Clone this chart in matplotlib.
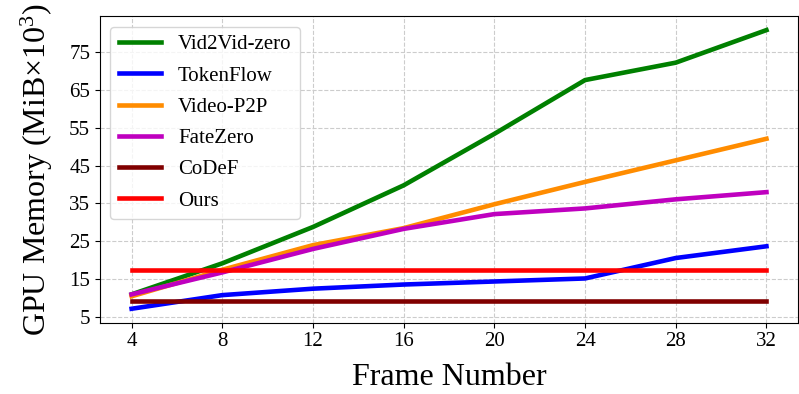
import numpy as np
import matplotlib
matplotlib.use('Agg')
import matplotlib.pyplot as plt

plt.rcParams['font.family'] = ['Liberation Serif', 'DejaVu Serif']
plt.rcParams['mathtext.fontset'] = 'custom'
plt.rcParams['mathtext.rm'] = 'Liberation Serif'
plt.rcParams['mathtext.it'] = 'Liberation Serif:italic'

frames = [4, 8, 12, 16, 20, 24, 28, 32]
vid2vid = [11.0, 19.2, 28.8, 39.8, 53.4, 67.6, 72.2, 80.8]
tokenflow = [7.2, 10.8, 12.5, 13.6, 14.4, 15.2, 20.6, 23.7]
videop2p = [10.5, 17.5, 24.0, 28.5, 34.8, 40.7, 46.4, 52.1]
fatezero = [11.0, 16.8, 23.0, 28.3, 32.2, 33.7, 36.1, 38.0]
codef = [9.3] * 8
ours = [17.5] * 8

series = [
    ('Vid2Vid-zero', vid2vid, 'green'),
    ('TokenFlow', tokenflow, 'blue'),
    ('Video-P2P', videop2p, 'darkorange'),
    ('FateZero', fatezero, 'm'),
    ('CoDeF', codef, 'maroon'),
    ('Ours', ours, 'red'),
]

fig = plt.figure(figsize=(7.99, 3.94), dpi=100)
ax = fig.add_axes([0.125, 0.181, 0.874, 0.778])

for name, vals, color in series:
    ax.plot(frames, vals, color=color, linewidth=3.3, label=name)

ax.set_xticks(frames)
ax.set_yticks(np.arange(5, 80, 10))
ax.tick_params(labelsize=15)
ax.set_xlabel('Frame Number', fontsize=23, labelpad=8)
ax.set_ylabel('GPU Memory (MiB×10$^3$)', fontsize=23, labelpad=10)
ax.grid(True, linestyle='--', color='#cccccc', linewidth=0.8)
ax.legend(loc='upper left', fontsize=15, handlelength=2.05, labelspacing=0.56)

fig.savefig('out.png', dpi=100)
